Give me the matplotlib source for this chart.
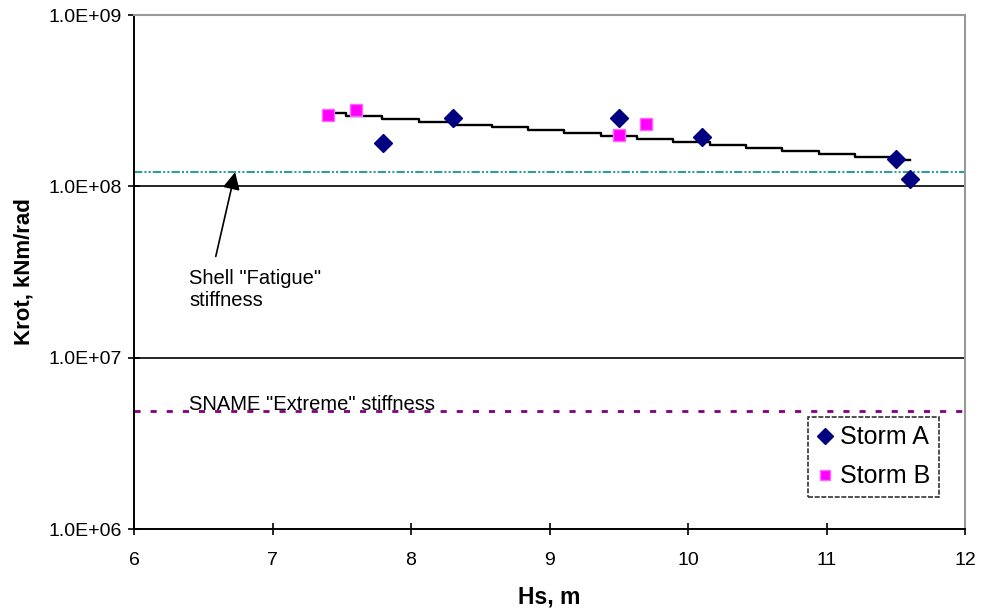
import numpy as np
import matplotlib
matplotlib.use("Agg")
from matplotlib import pyplot as plt
from matplotlib.ticker import FixedLocator, NullLocator

plt.rcParams['font.family'] = ['Liberation Sans', 'DejaVu Sans']

# Storm A / Storm B rotational stiffness vs significant wave height
hs_a = [7.8, 8.3, 9.5, 10.1, 11.5, 11.6]
krot_a = [1.78e8, 2.5e8, 2.5e8, 1.94e8, 1.44e8, 1.1e8]
hs_b = [7.4, 7.6, 9.5, 9.7]
krot_b = [2.6e8, 2.78e8, 1.99e8, 2.3e8]

shell_fatigue = 1.21e8
sname_extreme = 4.9e6

x_ticks = [6, 7, 8, 9, 10, 11, 12]
y_ticks = [1e6, 1e7, 1e8, 1e9]
y_tick_labels = ["1.0E+06", "1.0E+07", "1.0E+08", "1.0E+09"]

fig = plt.figure(figsize=(9.82, 6.13), dpi=100)
ax = fig.add_axes([0.1365, 0.137, 0.8462, 0.8385])
ax.set_yscale('log')
ax.set_xlim(6, 12)
ax.set_ylim(1e6, 1e9)

# decade gridlines
for v in y_ticks[1:-1]:
    ax.axhline(v, color='black', lw=1.2, zorder=1)

ax.axhline(shell_fatigue, color='#2e9e9a', lw=1.5, ls=(0, (4, 1, 1, 1, 1, 1)), zorder=2)
ax.axhline(sname_extreme, color='#800080', lw=2, ls=(0, (2.2, 3.6)), zorder=2)

# exponential trend through both storms, drawn as a stepped line
hs_all = np.array(hs_a + hs_b)
k_all = np.log10(np.array(krot_a + krot_b))
slope, icpt = np.polyfit(hs_all, k_all, 1)
xt = np.linspace(min(hs_all), max(hs_all), 17)
ax.plot(xt, 10 ** (icpt + slope * xt), color='black', lw=1.7,
        drawstyle='steps-mid', zorder=3)

ax.plot(hs_a, krot_a, ls='none', marker='D', ms=9, color='#000080',
        label='Storm A', zorder=4)
ax.plot(hs_b, krot_b, ls='none', marker='s', ms=8, color='#ff00ff',
        mec='#ff66ff', label='Storm B', zorder=4)

ax.text(6.4, 4.95e6, 'SNAME "Extreme" stiffness', fontsize=14.5,
        va='baseline', zorder=5)
ax.text(6.4, 2.0e7, 'Shell "Fatigue"\nstiffness', fontsize=14.5,
        va='baseline', linespacing=1.2)
ax.annotate('', xy=(6.73, shell_fatigue), xytext=(6.59, 3.9e7),
            arrowprops=dict(arrowstyle='-|>', color='black', lw=1.2,
                            mutation_scale=26, shrinkA=0, shrinkB=0))

ax.xaxis.set_major_locator(FixedLocator(x_ticks))
ax.yaxis.set_major_locator(FixedLocator(y_ticks))
ax.yaxis.set_minor_locator(NullLocator())
ax.set_yticklabels(y_tick_labels)
ax.tick_params(axis='both', labelsize=14, direction='inout', length=9, width=1.2)
ax.tick_params(axis='x', pad=12)
ax.tick_params(axis='y', pad=4)

for s in ['top', 'right']:
    ax.spines[s].set_color('#999999')
    ax.spines[s].set_linewidth(1.5)
for s in ['left', 'bottom']:
    ax.spines[s].set_linewidth(1.4)

ax.set_xlabel('Hs, m', fontsize=16.5, fontweight='bold', labelpad=12)
ax.set_ylabel('Krot, kNm/rad', fontsize=16, fontweight='bold', labelpad=10)

leg = ax.legend(loc='lower right', bbox_to_anchor=(0.969, 0.062), fontsize=18,
                fancybox=False, edgecolor='black', handlelength=0.7,
                handletextpad=0.25, borderpad=0.35, labelspacing=0.6,
                borderaxespad=0, markerscale=0.85)
leg.get_frame().set_linestyle((0, (3, 1)))
leg.get_frame().set_linewidth(1.2)

fig.savefig('out.png', dpi=100)
